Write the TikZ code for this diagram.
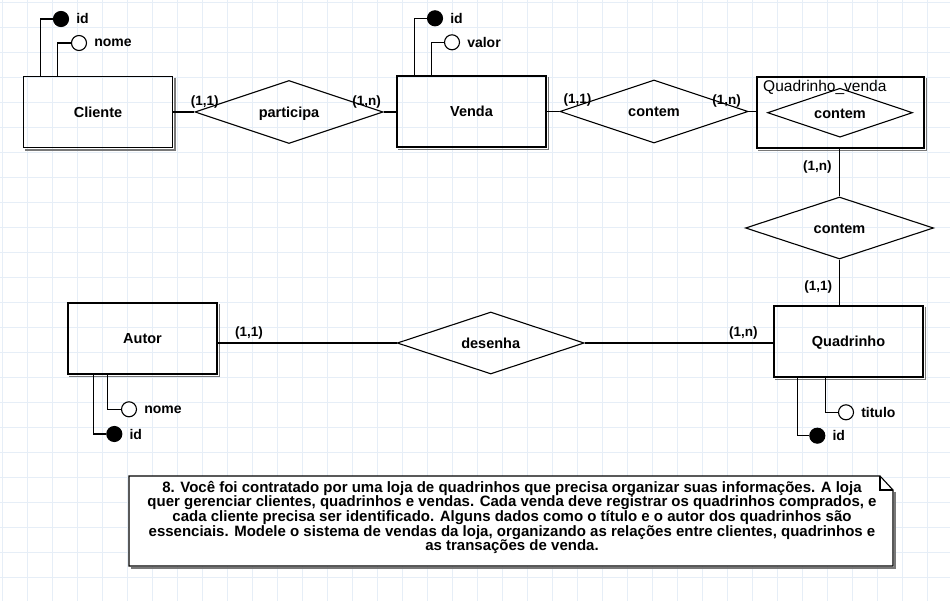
\documentclass[tikz,border=0pt]{standalone}
\usepackage{fontspec}
\setmainfont{Liberation Sans}
\usetikzlibrary{shapes.geometric}
\definecolor{gridblue}{RGB}{230,238,247}
\definecolor{shadegray}{RGB}{120,120,120}
\newcommand\tightlines{\lineskiplimit=-50pt\relax}
\tikzset{
	link/.style={line width=1.1pt},
	entity/.style={draw,line width=1.1pt,minimum width=149pt,minimum height=71pt,inner sep=0pt,text height=12pt,text depth=1pt,font=\fontsize{14.5}{16}\selectfont\bfseries},
	rel/.style={draw,diamond,aspect=3,line width=1.1pt,minimum width=188pt,minimum height=63pt,inner sep=0pt,text height=12pt,text depth=1pt,font=\fontsize{14.5}{16}\selectfont\bfseries},
	card/.style={inner sep=0pt,font=\fontsize{13.5}{15}\selectfont\bfseries},
	attr/.style={circle,draw,line width=1.1pt,fill=white,minimum size=15pt,inner sep=0pt},
	keyattr/.style={attr,fill=black},
	every label/.style={inner sep=0pt,xshift=7pt,font=\fontsize{14}{16}\selectfont\bfseries},
	shade/.style={draw=shadegray,line width=1.6pt},
}
\begin{document}
\begin{tikzpicture}[x=1pt,y=-1pt]
	\useasboundingbox (0,0) rectangle (950,601);
	\foreach \i in {0,...,37} \draw[gridblue,line width=0.8pt] (2.5+25*\i,0)--(2.5+25*\i,601);
	\foreach \j in {0,...,24} \draw[gridblue,line width=0.8pt] (0,2.5+25*\j)--(950,2.5+25*\j);

	\node[entity] (cliente) at (98,112){Cliente};
	\node[entity] (venda) at (471.5,111.5){Venda};
	\node[entity,minimum width=167pt] (qv) at (840.5,112.5){};
	\node[entity] (quadrinho) at (848.5,341.5){Quadrinho};
	\node[entity] (autor) at (142.5,338.5){Autor};
	\foreach \n in {cliente,venda,qv,quadrinho,autor}
		\draw[shade] ([xshift=1.8pt,yshift=-1.8pt]\n.north east)--([xshift=1.8pt,yshift=-1.8pt]\n.south east)--([xshift=1.8pt,yshift=-1.8pt]\n.south west);

	\node[rel] (participa) at (289,112){participa};
	\node[rel] (contem) at (654,111.5){contem};
	\node[rel,minimum width=145pt,minimum height=49pt] (qvcontem) at (840,112.7){contem};
	\node[anchor=base west,inner sep=0pt,font=\fontsize{15.5}{17}\selectfont] (qvlabel) at (763,92){Quadrinho\_venda};
	\node[rel,minimum height=62pt] (contemq) at (839.5,228){contem};
	\node[rel,minimum width=187pt,minimum height=62pt] (desenha) at (490.7,343){desenha};

	\draw[link] (cliente.east)--(participa.west);
	\draw[link] (participa.east)--(participa.east-|venda.west);
	\draw[link] (venda.east)--(contem.west);
	\draw[link] (contem.east)--(contem.east-|qv.west);
	\draw[link] (contemq.north|-qv.south)--(contemq.north);
	\draw[link] (contemq.south)--(contemq.south|-quadrinho.north);
	\draw[link] (autor.east|-desenha.west)--(desenha.west);
	\draw[link] (desenha.east)--(desenha.east-|quadrinho.west);

	\node[card] at (204.7,101.7){(1,1)};
	\node[card] at (366.7,101.7){(1,n)};
	\node[card] at (577.5,100.5){(1,1)};
	\node[card] at (726.7,100.7){(1,n)};
	\node[card] at (817.3,166.7){(1,n)};
	\node[card] at (818.3,286.7){(1,1)};
	\node[card] at (249,333.3){(1,1)};
	\node[card] at (743.3,333.3){(1,n)};

	\node[keyattr,label=right:id] (clienteid) at (61,19){};
	\node[attr,label=right:nome] (clientenome) at (79,43){};
	\draw[link] (clienteid)-|([xshift=17.2pt]cliente.north west);
	\draw[link] (clientenome)-|([xshift=34.8pt]cliente.north west);
	\node[keyattr,label=right:id] (vendaid) at (435,18.3){};
	\node[attr,label=right:valor] (vendavalor) at (452,42.3){};
	\draw[link] (vendaid)-|([xshift=17.7pt]venda.north west);
	\draw[link] (vendavalor)-|([xshift=35pt]venda.north west);
	\node[attr,label=right:nome] (autornome) at (129,409.3){};
	\node[keyattr,label=right:id] (autorid) at (114.3,434){};
	\draw[link] (autornome)-|([xshift=40.3pt]autor.south west);
	\draw[link] (autorid)-|([xshift=26.3pt]autor.south west);
	\node[attr,label=right:titulo] (quadrinhotitulo) at (846,412.3){};
	\node[keyattr,label=right:id] (quadrinhoid) at (817.3,435.7){};
	\draw[link] (quadrinhotitulo)-|([xshift=51.7pt]quadrinho.south west);
	\draw[link] (quadrinhoid)-|([xshift=23.7pt]quadrinho.south west);

	\draw[shade] (894.8,491.8)--(894.8,567.8)--(130.8,567.8);
	\draw[link,fill=white] (129,476)--(880,476)--(893,490)--(893,566)--(129,566)--cycle;
	\draw[link] (880,476)--(880,490)--(893,490);
	\node[align=center,inner sep=0pt,font=\fontsize{15}{14.6}\selectfont\bfseries\tightlines] (enunciado) at (512,517.5){8. Você foi contratado por uma loja de quadrinhos que precisa organizar suas informações. A loja\\quer gerenciar clientes, quadrinhos e vendas. Cada venda deve registrar os quadrinhos comprados, e\\cada cliente precisa ser identificado. Alguns dados como o título e o autor dos quadrinhos são\\essenciais. Modele o sistema de vendas da loja, organizando as relações entre clientes, quadrinhos e\\as transações de venda.};
\end{tikzpicture}
\end{document}
